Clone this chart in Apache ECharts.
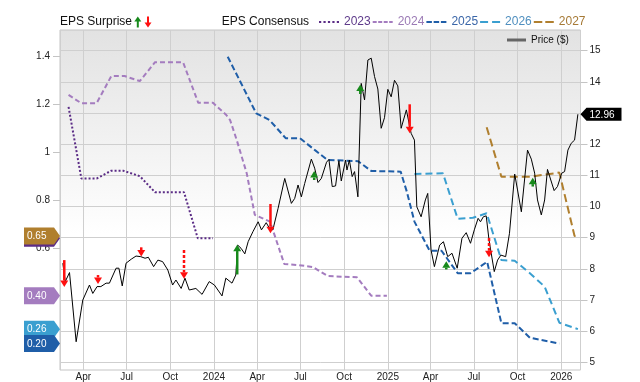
<!DOCTYPE html>
<html><head><meta charset="utf-8">
<script src="https://cdn.jsdelivr.net/npm/echarts@6/dist/echarts.min.js"></script>
<style>html,body{margin:0;padding:0;background:#fff}#c{width:640px;height:382px}</style>
</head><body><div id="c"></div>
<script>
// ---------- DATA ----------
const xTickMonths = ['Jan','Feb','Mar','Apr','May','Jun','Jul','Aug','Sep','Oct','Nov','Dec'];
const leftTicks = [0.2, 0.4, 0.6, 0.8, 1, 1.2, 1.4];
const rightTicks = [5, 6, 7, 8, 9, 10, 11, 12, 13, 14, 15];

const priceDates = ['2023-02-17','2023-02-22','2023-03-03','2023-03-17','2023-03-31','2023-04-14','2023-04-21','2023-04-30','2023-05-08','2023-05-19','2023-05-26','2023-06-09','2023-06-15','2023-06-22','2023-06-30','2023-07-11','2023-07-21','2023-07-31','2023-08-09','2023-08-16','2023-08-27','2023-09-05','2023-09-15','2023-09-26','2023-10-06','2023-10-13','2023-10-24','2023-11-01','2023-11-10','2023-11-24','2023-12-07','2023-12-22','2024-01-02','2024-01-18','2024-01-26','2024-02-08','2024-02-16','2024-02-20','2024-02-27','2024-03-06','2024-03-13','2024-03-23','2024-04-03','2024-04-10','2024-04-20','2024-04-27','2024-05-04','2024-05-15','2024-05-29','2024-06-12','2024-06-19','2024-06-26','2024-07-03','2024-07-10','2024-07-24','2024-07-31','2024-08-07','2024-08-14','2024-08-25','2024-08-30','2024-09-06','2024-09-13','2024-09-20','2024-09-25','2024-10-04','2024-10-07','2024-10-12','2024-10-18','2024-10-23','2024-10-30','2024-11-06','2024-11-13','2024-11-20','2024-11-27','2024-12-04','2024-12-11','2024-12-18','2024-12-25','2025-01-01','2025-01-08','2025-01-15','2025-01-22','2025-01-29','2025-02-09','2025-02-19','2025-02-26','2025-03-03','2025-03-12','2025-03-21','2025-03-26','2025-04-02','2025-04-09','2025-04-20','2025-04-28','2025-05-07','2025-05-16','2025-05-27','2025-06-06','2025-06-15','2025-06-24','2025-07-02','2025-07-10','2025-07-15','2025-07-21','2025-07-27','2025-08-02','2025-08-13','2025-08-20','2025-08-27','2025-09-06','2025-09-14','2025-09-25','2025-10-01','2025-10-09','2025-10-22','2025-10-30','2025-11-06','2025-11-12','2025-11-20','2025-11-27','2025-12-03','2025-12-10','2025-12-17','2025-12-24','2026-01-02','2026-01-08','2026-01-15','2026-01-22','2026-01-29','2026-02-05'];
const priceValues = [8.18,7.59,7.88,5.66,7.00,7.48,7.21,7.43,7.43,7.54,7.54,8.02,8.02,7.45,8.18,8.31,8.41,8.39,8.34,8.37,8.07,8.28,8.23,7.96,7.48,7.64,7.37,7.70,7.32,7.37,7.18,7.59,7.48,7.13,7.70,7.54,7.80,8.76,8.66,8.48,8.87,9.19,9.51,9.25,9.48,9.30,9.25,9.94,10.90,10.10,10.26,10.69,10.31,10.74,11.52,11.23,10.77,10.90,11.42,11.51,10.64,10.66,11.47,10.82,11.49,11.17,11.49,10.96,11.12,10.31,13.95,13.42,14.70,14.76,14.17,13.77,12.51,12.85,13.76,13.52,14.05,13.87,12.51,13.10,12.35,12.13,9.99,9.67,10.21,10.42,8.60,8.07,8.76,8.87,8.39,8.50,8.02,8.98,9.16,8.82,9.25,9.62,9.51,9.67,9.70,8.92,7.91,8.28,8.44,8.39,9.14,11.04,10.53,9.83,11.81,11.52,11.07,10.21,9.73,10.21,11.19,10.85,10.51,10.64,11.07,11.12,11.81,12.03,12.13,12.96];

const eps2023Dates = ['2023-03-01','2023-03-28','2023-04-29','2023-05-30','2023-06-24','2023-07-29','2023-08-30','2023-10-30','2023-11-28','2023-12-30'];
const eps2023Values = [1.19,0.89,0.89,0.923,0.923,0.90,0.833,0.833,0.64,0.64];

const eps2024Dates = ['2023-03-01','2023-03-28','2023-04-29','2023-05-30','2023-06-27','2023-07-29','2023-08-30','2023-10-28','2023-11-29','2023-12-30','2024-01-27','2024-02-04','2024-02-18','2024-03-10','2024-03-27','2024-04-28','2024-05-28','2024-06-28','2024-07-27','2024-08-28','2024-10-28','2024-11-27','2024-12-30'];
const eps2024Values = [1.24,1.205,1.205,1.319,1.319,1.298,1.377,1.377,1.207,1.207,1.156,1.135,1.051,0.912,0.738,0.71,0.533,0.528,0.52,0.482,0.477,0.40,0.40];

const eps2025Dates = ['2024-01-30','2024-03-30','2024-04-27','2024-05-31','2024-06-30','2024-07-31','2024-08-27','2024-10-30','2024-11-27','2025-01-28','2025-02-10','2025-02-26','2025-03-30','2025-04-24','2025-05-28','2025-06-24','2025-07-29','2025-08-28','2025-09-25','2025-10-27','2025-12-28'];
const eps2025Values = [1.40,1.163,1.135,1.059,1.059,1.01,0.968,0.963,0.922,0.919,0.835,0.71,0.588,0.588,0.494,0.494,0.542,0.285,0.285,0.224,0.20];

const eps2026Dates = ['2025-02-26','2025-04-27','2025-05-28','2025-06-29','2025-07-28','2025-08-28','2025-09-25','2025-10-27','2025-11-27','2025-12-28','2026-02-05'];
const eps2026Values = [0.909,0.912,0.722,0.726,0.745,0.549,0.546,0.494,0.438,0.287,0.26];

const eps2027Dates = ['2025-07-28','2025-08-28','2025-10-27','2025-12-28','2026-01-29','2026-02-05'];
const eps2027Values = [1.105,0.898,0.898,0.915,0.65,0.65];

const surpriseDates = ['2023-02-20','2023-05-02','2023-08-01','2023-10-30','2024-02-19','2024-04-29','2024-07-30','2024-11-04','2025-02-16','2025-05-04','2025-08-02','2025-11-02'];
const surpriseFrom  = [8.28,7.80,8.69,8.60,7.82,10.08,10.85,13.61,13.28,7.98,8.99,10.64];
const surpriseTo    = [7.43,7.53,8.41,7.70,8.76,9.16,11.12,13.90,12.37,8.23,8.39,10.91];
const surpriseDashed = [false,false,false,true,false,false,false,false,false,false,true,false];

// ---------- HELPERS / STYLE ----------
const DAY = 86400000;
function t(s){ const p = s.split('-').map(Number); return new Date(p[0], p[1]-1, p[2]).getTime(); }
function zip(ds, vs){ return ds.map((d,i)=>[t(d), vs[i]]); }
const FONT = '"Liberation Sans", Arial, Helvetica, sans-serif';
const X_MIN = t('2023-02-11');
const X_MAX = t('2026-02-10') + DAY/2;

const consensus = [
  {name:'2023', dates:eps2023Dates, values:eps2023Values},
  {name:'2024', dates:eps2024Dates, values:eps2024Values},
  {name:'2025', dates:eps2025Dates, values:eps2025Values},
  {name:'2026', dates:eps2026Dates, values:eps2026Values},
  {name:'2027', dates:eps2027Dates, values:eps2027Values}
];
const consStyle = {
  '2023': {color:'#5b2c86', text:'#5e3a8a', dash:[2,2], icon:'path://M0,0h2v2h-2zM4,0h2v2h-2zM8,0h2v2h-2zM12,0h2v2h-2zM16,0h2v2h-2z'},
  '2024': {color:'#a47cbf', text:'#9b7ab5', dash:[5,3], icon:'path://M0,0h4v2h-4zM5.5,0h4v2h-4zM11,0h4v2h-4zM16.5,0h3.5v2h-3.5z'},
  '2025': {color:'#1f5ea8', text:'#3a66a8', dash:[6,3], icon:'path://M0,0h5.5v2h-5.5zM7.25,0h5.5v2h-5.5zM14.5,0h5.5v2h-5.5z'},
  '2026': {color:'#3a9fd0', text:'#4f8fbf', dash:[7,4], icon:'path://M0,0h8v2h-8zM12,0h8v2h-8z'},
  '2027': {color:'#b07f2e', text:'#a67a36', dash:[8,4], icon:'path://M0,0h8.5v2h-8.5zM11.5,0h8.5v2h-8.5z'}
};
// tag draw order (bottom to top)
const tagOrder = ['2023','2027','2024','2026','2025'];
const tagSeries = tagOrder.map(n => consensus.find(c => c.name === n));
const tagValues = tagSeries.map(c => c.values[c.values.length-1]);

const series = [];
consensus.forEach(c => {
  const st = consStyle[c.name];
  series.push({
    name: c.name, type:'line', yAxisIndex:0, data: zip(c.dates, c.values),
    showSymbol:false, symbol:'none', color: st.color, itemStyle:{color:st.color},
    lineStyle:{color:st.color, width:2, type: st.dash}, z:3, silent:true
  });
});
series.push({
  name:'Price ($)', type:'line', yAxisIndex:1, data: zip(priceDates, priceValues),
  showSymbol:false, symbol:'none', color:'#000', lineStyle:{color:'#000', width:1}, z:4, silent:true
});
// EPS surprise arrows
series.push({
  type:'custom', yAxisIndex:1, clip:false, z:6, silent:true,
  data: surpriseDates.map((d,i)=>[t(d), surpriseFrom[i], surpriseTo[i]]),
  renderItem: function(params, api){
    const i = params.dataIndex;
    const p1 = api.coord([api.value(0), api.value(1)]);
    const p2 = api.coord([api.value(0), api.value(2)]);
    const up = p2[1] < p1[1];
    const color = up ? '#17891b' : '#ff1010';
    const dir = up ? -1 : 1;
    const hw = 4, hh = 6;
    const baseY = p2[1] - dir*hh;
    const ch = [];
    if (dir*(baseY - p1[1]) > 0) {
      ch.push({type:'line', shape:{x1:p1[0], y1:p1[1], x2:p1[0], y2:baseY},
        style:{stroke:color, lineWidth:2.5, lineDash: surpriseDashed[i] ? [3,2] : null}});
    }
    ch.push({type:'polygon', shape:{points:[[p2[0]-hw, baseY],[p2[0]+hw, baseY],[p2[0], p2[1]+dir*0.5]]}, style:{fill:color}});
    return {type:'group', children: ch};
  }
});
// left value tags
series.push({
  type:'custom', yAxisIndex:0, clip:false, z:10, silent:true,
  data: tagValues.map(v => [X_MIN, v]),
  renderItem: function(params, api){
    const i = params.dataIndex;
    const p = api.coord([api.value(0), api.value(1)]);
    const c = consStyle[tagSeries[i].name].color;
    const h = 8.5;
    return {type:'group', children:[
      {type:'polygon', shape:{points:[[p[0]-36,p[1]-h],[p[0]-6,p[1]-h],[p[0],p[1]],[p[0]-6,p[1]+h],[p[0]-36,p[1]+h]]}, style:{fill:c}},
      {type:'text', style:{text: tagValues[i].toFixed(2), x:p[0]-33, y:p[1]+0.5, fill:'#fff', font:'10px ' + FONT, align:'left', verticalAlign:'middle'}}
    ]};
  }
});
// right price tag
series.push({
  type:'custom', yAxisIndex:1, clip:false, z:10, silent:true,
  data: [[X_MAX, priceValues[priceValues.length-1]]],
  renderItem: function(params, api){
    const p = api.coord([api.value(0), api.value(1)]);
    const h = 6.5;
    return {type:'group', children:[
      {type:'polygon', shape:{points:[[p[0],p[1]],[p[0]+6,p[1]-h],[p[0]+41,p[1]-h],[p[0]+41,p[1]+h],[p[0]+6,p[1]+h]]}, style:{fill:'#000'}},
      {type:'text', style:{text: api.value(1).toFixed(2), x:p[0]+9, y:p[1]+0.5, fill:'#fff', font:'10px ' + FONT, align:'left', verticalAlign:'middle'}}
    ]};
  }
});

const option = {
  animation:false,
  textStyle:{fontFamily:FONT},
  grid:{left:60, right:59.5, top:30, bottom:12, show:true, borderColor:'#c4c4c4', borderWidth:1,
    backgroundColor:{type:'linear', x:0, y:0, x2:0, y2:1, colorStops:[{offset:0,color:'#e2e2e2'},{offset:0.5,color:'#fafafa'},{offset:0.6,color:'#ffffff'},{offset:1,color:'#ffffff'}]}},
  legend:[
    {data: consensus.map(c=>({name:c.name, icon:consStyle[c.name].icon, textStyle:{color:consStyle[c.name].text}})),
     left:319, top:16, padding:0, itemWidth:20, itemHeight:3, itemGap:2, selectedMode:false,
     textStyle:{fontSize:12, fontFamily:FONT}},
    {data:[{name:'Price ($)', icon:'rect', itemStyle:{color:'#666'}}],
     left:507, top:35, padding:0, itemWidth:19, itemHeight:3, selectedMode:false,
     textStyle:{fontSize:10, color:'#111', fontFamily:FONT}}
  ],
  graphic:[
    {type:'text', left:60, top:16, style:{text:'EPS Surprise', fill:'#111', font:'12px ' + FONT}},
    {type:'polygon', shape:{points:[[137.8,16.5],[141.3,21.5],[134.3,21.5]]}, style:{fill:'#17891b'}},
    {type:'rect', shape:{x:136.8, y:21, width:2, height:6.5}, style:{fill:'#17891b'}},
    {type:'rect', shape:{x:147, y:16.5, width:2, height:6.5}, style:{fill:'#ff1010'}},
    {type:'polygon', shape:{points:[[144.5,22.5],[151.5,22.5],[148,27.5]]}, style:{fill:'#ff1010'}},
    {type:'text', left:221.7, top:16, style:{text:'EPS Consensus', fill:'#111', font:'12px ' + FONT}}
  ],
  xAxis:{
    type:'time', min:X_MIN, max:X_MAX, splitNumber:12, minInterval:91*DAY, maxInterval:91*DAY,
    axisLine:{show:false}, axisTick:{show:false},
    axisLabel:{color:'#222', fontSize:10, margin:2, showMinLabel:false, showMaxLabel:false, hideOverlap:false,
      formatter:function(v){ const d=new Date(v); return d.getMonth()===0 ? String(d.getFullYear()) : xTickMonths[d.getMonth()]; }},
    splitLine:{show:true, lineStyle:{color:'#cfcfcf', width:1}}
  },
  yAxis:[
    {type:'value', position:'left', min:0.0891, max:1.5117, splitNumber:7,
     axisLine:{show:false},
     axisTick:{show:true, length:7, customValues:leftTicks, lineStyle:{color:'#c4c4c4'}},
     axisLabel:{customValues:leftTicks, color:'#222', fontSize:10, margin:10, formatter:function(v){return String(v);}},
     splitLine:{show:false}},
    {type:'value', position:'right', min:4.753, max:15.664, splitNumber:11,
     axisLine:{show:false},
     axisTick:{show:true, length:7, customValues:rightTicks, lineStyle:{color:'#c4c4c4'}},
     axisLabel:{customValues:rightTicks, color:'#222', fontSize:10, margin:9, formatter:function(v){return String(v);}},
     splitLine:{show:true, lineStyle:{color:'#cfcfcf', width:1}}}
  ],
  series: series
};
const chart = echarts.init(document.getElementById('c'), null, {renderer:'canvas'});
chart.setOption(option);
</script></body></html>
